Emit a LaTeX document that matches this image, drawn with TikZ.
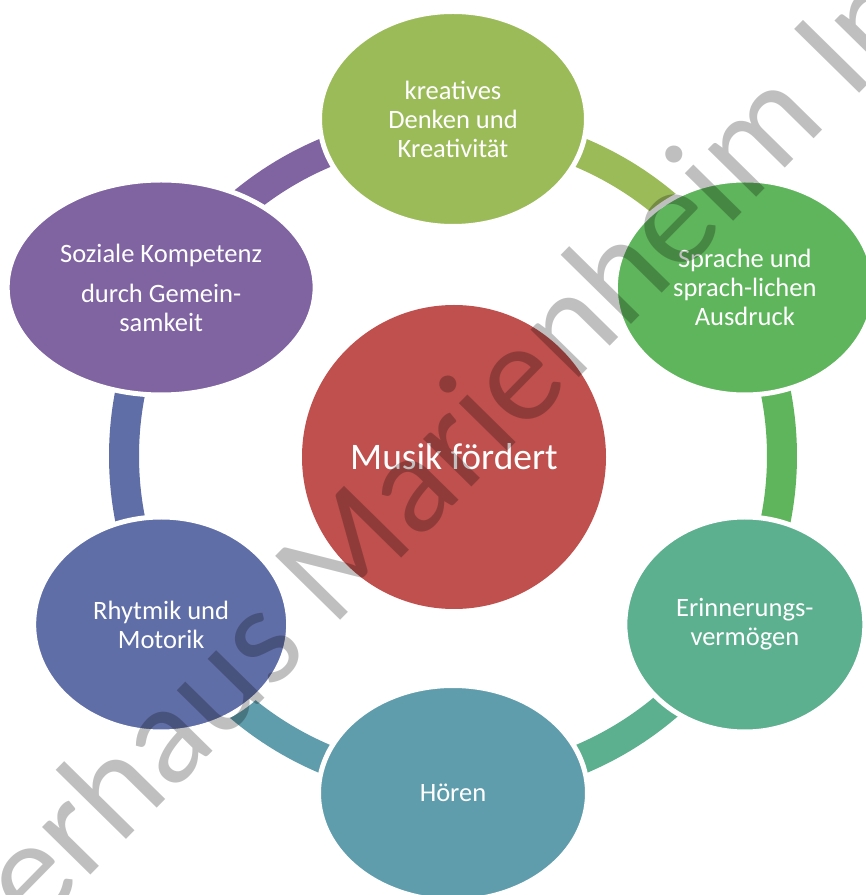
\documentclass[tikz,border=0pt]{standalone}
\usepackage{fontspec}
\setmainfont{Carlito}
\usepackage{tikz}
\usetikzlibrary{shapes.geometric}

\definecolor{musikred}{HTML}{C0504D}
\definecolor{olivgruen}{HTML}{9BBB59}
\definecolor{sprachgruen}{HTML}{5FB55C}
\definecolor{tuerkis}{HTML}{5CB08F}
\definecolor{petrol}{HTML}{5F9DAC}
\definecolor{blauviolett}{HTML}{606EA8}
\definecolor{lila}{HTML}{8064A2}

\tikzset{
	bubble/.style={ellipse, fill=#1, draw=white, line width=5pt, inner sep=0pt,
		minimum height=215pt, text=white, align=center,
		font=\fontsize{26.5}{29}\selectfont},
	ringarc/.style={draw=#1, line width=30pt, line cap=butt}
}

\begin{document}
\begin{tikzpicture}[x=1pt, y=1pt]
					\useasboundingbox (0,0) rectangle (866,895);
					\clip (0,0) rectangle (866,895);
					\coordinate (ring) at (453,439);

					% ring pieces, each in the colour of the bubble it leaves
					\draw [ringarc=olivgruen] ([shift={(90:329)}]ring) arc [start angle=90, end angle=30, radius=329];
					\draw [ringarc=sprachgruen] ([shift={(30:329)}]ring) arc [start angle=30, end angle=-30, radius=329];
					\draw [ringarc=tuerkis] ([shift={(-30:329)}]ring) arc [start angle=-30, end angle=-90, radius=329];
					\draw [ringarc=petrol] ([shift={(-90:329)}]ring) arc [start angle=-90, end angle=-150, radius=329];
					\draw [ringarc=blauviolett] ([shift={(-150:329)}]ring) arc [start angle=-150, end angle=-210, radius=329];
					\draw [ringarc=lila] ([shift={(150:329)}]ring) arc [start angle=150, end angle=90, radius=329];

					\node [bubble=olivgruen, minimum width=267pt] (kreativ) at ([shift={(90:337)}]ring) {kreatives\\Denken und\\Kreativität};
					\node [bubble=sprachgruen, minimum width=259pt] (sprache) at ([shift={(30:337)}]ring) {Sprache und\\sprach-lichen\\Ausdruck};
					\node [bubble=tuerkis, minimum width=240pt] (erinnerung) at ([shift={(-30:337)}]ring) {Erinnerungs-\\vermögen};
					\node [bubble=petrol, minimum width=269pt] (hoeren) at ([shift={(-90:337)}]ring) {Hören};
					\node [bubble=blauviolett, minimum width=255pt] (rhythmik) at ([shift={(-150:337)}]ring) {Rhytmik und\\Motorik};
					\node [bubble=lila, minimum width=308pt] (sozial) at ([shift={(150:337)}]ring) {Soziale Kompetenz\\[11pt]durch Gemein-\\samkeit};

					\node [circle, fill=musikred, inner sep=0pt, minimum size=304pt, text=white, font=\fontsize{37.5}{40}\selectfont] (musik) at (454,438) {Musik fördert};

					% watermark
					\node [rotate=45.5, text=black, text opacity=0.25, font=\fontsize{142}{142}\selectfont] (stempel) at (447,452) {erhaus Marienheim In};
				\end{tikzpicture}
\end{document}
